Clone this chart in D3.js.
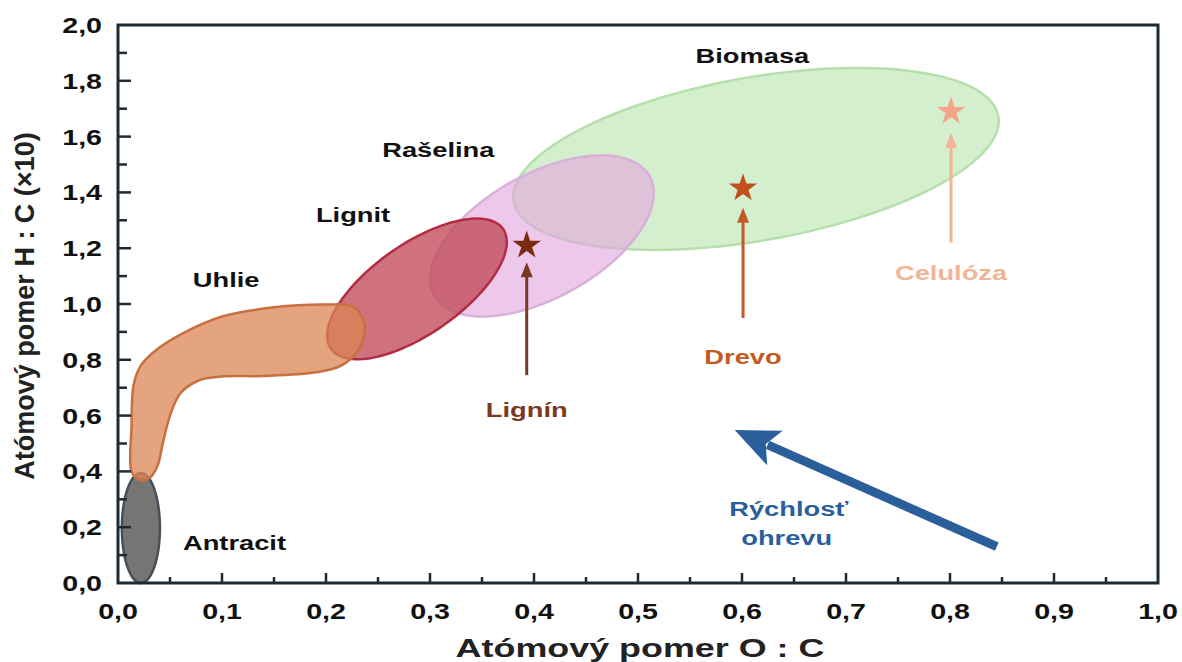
<!DOCTYPE html>
<html>
<head>
<meta charset="utf-8">
<script src="https://cdn.jsdelivr.net/npm/d3@7"></script>
<style>
  html, body { margin: 0; padding: 0; background: #ffffff; }
  svg { display: block; }
</style>
</head>
<body>
<div id="container"></div>
<script>
const pageWidth = 1182;
const pageHeight = 662;

// Axis setup
const xTicks = [0, 0.1, 0.2, 0.3, 0.4, 0.5, 0.6, 0.7, 0.8, 0.9, 1.0];
const xTickLabels = ["0,0", "0,1", "0,2", "0,3", "0,4", "0,5", "0,6", "0,7", "0,8", "0,9", "1,0"];
const yTicks = [0, 0.2, 0.4, 0.6, 0.8, 1.0, 1.2, 1.4, 1.6, 1.8, 2.0];
const yTickLabels = ["0,0", "0,2", "0,4", "0,6", "0,8", "1,0", "1,2", "1,4", "1,6", "1,8", "2,0"];
const xTitle = "Atómový pomer O : C";
const yTitle = "Atómový pomer H : C (×10)";

// Fuel regions drawn as ellipses: centre, half axis A, half axis B (data units)
const ellipseNames   = ["Biomasa", "Rašelina", "Lignit", "Antracit"];
const ellipseCenters = [[0.6135, 1.52], [0.4077, 1.244], [0.2875, 1.054], [0.022, 0.197]];
const ellipseAxisA   = [[0.233, 0.153], [0.1035, 0.2137], [0.0827, 0.215], [0.0, 0.197]];
const ellipseAxisB   = [[0.01365, -0.288], [0.0289, -0.1944], [0.0248, -0.132], [0.0183, 0.0]];

// Uhlie band outline (O:C, H:C)
const uhlieOutline = [
  [0.013, 0.40], [0.013, 0.56], [0.015, 0.71], [0.022, 0.78], [0.035, 0.83],
  [0.06, 0.89], [0.10, 0.955], [0.15, 0.988], [0.20, 0.998], [0.226, 0.99],
  [0.237, 0.93], [0.232, 0.84], [0.215, 0.78], [0.19, 0.755], [0.14, 0.742],
  [0.10, 0.74], [0.077, 0.725], [0.06, 0.68], [0.05, 0.60], [0.043, 0.50],
  [0.038, 0.42], [0.03, 0.375], [0.02, 0.37]
];

// Component stars with their arrows and labels
const starNames  = ["Lignín", "Drevo", "Celulóza"];
const starPoints = [[0.393, 1.21], [0.601, 1.415], [0.801, 1.69]];
const arrowFromY = [0.745, 0.95, 1.22];
const arrowToY   = [1.15, 1.345, 1.613];
const starLabelY = [0.595, 0.785, 1.085];

// Region labels
const regionLabels = ["Biomasa", "Rašelina", "Lignit", "Uhlie", "Antracit"];
const regionLabelPos = [[0.61, 1.865], [0.308, 1.528], [0.226, 1.295], [0.104, 1.06], [0.112, 0.118]];

// Heating rate arrow
const rateArrowFrom = [0.845, 0.13];
const rateArrowTo = [0.593, 0.548];
const rateLabel = ["Rýchlosť", "ohrevu"];
const rateLabelPos = [[0.645, 0.24], [0.643, 0.137]];

const margin = { top: 25, right: 24, bottom: 79, left: 118 };
const width = pageWidth - margin.left - margin.right;
const height = pageHeight - margin.top - margin.bottom;

const svg = d3.select("#container")
  .append("svg")
  .attr("width", pageWidth)
  .attr("height", pageHeight);

const g = svg.append("g")
  .attr("transform", "translate(" + margin.left + "," + margin.top + ")");

const x = d3.scaleLinear().domain([0, 1]).range([0, width]);
const y = d3.scaleLinear().domain([0, 2]).range([height, 0]);

const FONT = "'Liberation Sans', Arial, sans-serif";
const STRETCH = 1.3;

// stretched bold text, like the source picture
function addText(parent, px, py, txt, size, color, anchor, stretch)
{
  return parent.append("text")
    .attr("transform", "translate(" + px + "," + py + ") scale(" + (stretch || STRETCH) + ",1)")
    .attr("text-anchor", anchor || "middle")
    .style("font-family", FONT)
    .style("font-weight", "bold")
    .style("font-size", size + "px")
    .style("fill", color || "#111")
    .text(txt);
}

function ellipsePath(i)
{
  const c = ellipseCenters[i], a = ellipseAxisA[i], b = ellipseAxisB[i];
  const pts = d3.range(0, 2 * Math.PI, Math.PI / 60).map(t => [
    c[0] + a[0] * Math.cos(t) + b[0] * Math.sin(t),
    c[1] + a[1] * Math.cos(t) + b[1] * Math.sin(t)
  ]);
  return d3.line().x(d => x(d[0])).y(d => y(d[1])).curve(d3.curveLinearClosed)(pts);
}

// Regions
const regionStyle = {
  "Biomasa":  { fill: "#c8ebc0", opacity: 0.78, stroke: "#b5e0ac" },
  "Rašelina": { fill: "#e2a6df", opacity: 0.62, stroke: "#d9b0d9" },
  "Lignit":   { fill: "#c24a5a", opacity: 0.78, stroke: "#b22c42" },
  "Antracit": { fill: "#626262", opacity: 0.88, stroke: "#45505a" }
};

["Biomasa", "Rašelina", "Lignit", "Antracit"].forEach(name => {
  const i = ellipseNames.indexOf(name);
  const s = regionStyle[name];
  g.append("path")
    .attr("d", ellipsePath(i))
    .attr("fill", s.fill)
    .attr("fill-opacity", s.opacity)
    .attr("stroke", s.stroke)
    .attr("stroke-width", 2.5);
});

g.append("path")
  .datum(uhlieOutline)
  .attr("d", d3.line().x(d => x(d[0])).y(d => y(d[1])).curve(d3.curveCatmullRomClosed.alpha(0.5)))
  .attr("fill", "#da8654")
  .attr("fill-opacity", 0.75)
  .attr("stroke", "#c8703f")
  .attr("stroke-width", 2.5);

// Frame and ticks
const axisColor = "#1c2a35";

g.append("rect")
  .attr("x", 0).attr("y", 0)
  .attr("width", width).attr("height", height)
  .attr("fill", "none")
  .attr("stroke", axisColor)
  .attr("stroke-width", 3);

const xMinor = d3.range(0.05, 1.0, 0.1);
const yMinor = d3.range(0.1, 2.0, 0.2);

g.selectAll(".xmaj").data(xTicks.slice(1, -1)).enter().append("line")
  .attr("x1", d => x(d)).attr("x2", d => x(d))
  .attr("y1", height).attr("y2", height - 10)
  .attr("stroke", axisColor).attr("stroke-width", 2.5);
g.selectAll(".xmin").data(xMinor).enter().append("line")
  .attr("x1", d => x(d)).attr("x2", d => x(d))
  .attr("y1", height).attr("y2", height - 6)
  .attr("stroke", axisColor).attr("stroke-width", 2.5);
g.selectAll(".ymaj").data(yTicks.slice(1, -1)).enter().append("line")
  .attr("x1", 0).attr("x2", 13)
  .attr("y1", d => y(d)).attr("y2", d => y(d))
  .attr("stroke", axisColor).attr("stroke-width", 2.5);
g.selectAll(".ymin").data(yMinor).enter().append("line")
  .attr("x1", 0).attr("x2", 9)
  .attr("y1", d => y(d)).attr("y2", d => y(d))
  .attr("stroke", axisColor).attr("stroke-width", 2.5);

xTicks.forEach((v, i) => addText(g, x(v), height + 36, xTickLabels[i], 22, "#111"));
yTicks.forEach((v, i) => addText(g, -16, y(v) + 8, yTickLabels[i], 22, "#111", "end"));

// Axis titles
addText(g, width / 2 + 2, height + 74, xTitle, 26, "#222", "middle", 1.38);
g.append("text")
  .attr("transform", "translate(" + (-84) + "," + (height / 2 + 2) + ") rotate(-90)")
  .attr("text-anchor", "middle")
  .style("font-family", FONT)
  .style("font-weight", "bold")
  .style("font-size", "27px")
  .style("fill", "#222")
  .text(yTitle);

// Stars with arrows
const starColors = ["#7a2a10", "#c2501c", "#f2a587"];
const arrowColors = ["#7a3a22", "#c25a22", "#f0b596"];
const labelColors = ["#7a3a22", "#c25a22", "#f0b596"];

starPoints.forEach((p, i) => {
  const tipX = x(p[0]), tipY = y(arrowToY[i]);
  g.append("line")
    .attr("x1", tipX).attr("x2", tipX)
    .attr("y1", y(arrowFromY[i])).attr("y2", tipY + 12)
    .attr("stroke", arrowColors[i])
    .attr("stroke-width", 3);
  g.append("path")
    .attr("d", "M" + (tipX - 6) + "," + (tipY + 15) + " L" + tipX + "," + tipY + " L" + (tipX + 6) + "," + (tipY + 15) + " Z")
    .attr("fill", arrowColors[i]);

  g.append("path")
    .attr("transform", "translate(" + x(p[0]) + "," + y(p[1]) + ")")
    .attr("d", d3.symbol().type(d3.symbolStar).size(250)())
    .attr("fill", starColors[i]);

  addText(g, x(p[0]), y(starLabelY[i]), starNames[i], 21, labelColors[i]);
});

// Region labels
regionLabels.forEach((name, i) => {
  addText(g, x(regionLabelPos[i][0]), y(regionLabelPos[i][1]), name, 21, "#111");
});

// Heating rate arrow
{
  const x1 = x(rateArrowFrom[0]), y1 = y(rateArrowFrom[1]);
  const x2 = x(rateArrowTo[0]), y2 = y(rateArrowTo[1]);
  const ang = Math.atan2(y2 - y1, x2 - x1);
  const headLen = 44, headHalf = 19;
  const bx = x2 - headLen * Math.cos(ang), by = y2 - headLen * Math.sin(ang);
  const nx = -Math.sin(ang), ny = Math.cos(ang);
  const blue = "#2a5f9b";

  g.append("line")
    .attr("x1", x1).attr("y1", y1)
    .attr("x2", bx + 8 * Math.cos(ang)).attr("y2", by + 8 * Math.sin(ang))
    .attr("stroke", blue)
    .attr("stroke-width", 9);

  g.append("path")
    .attr("d", "M" + x2 + "," + y2 +
               " L" + (bx + headHalf * nx) + "," + (by + headHalf * ny) +
               " L" + (bx + 10 * Math.cos(ang)) + "," + (by + 10 * Math.sin(ang)) +
               " L" + (bx - headHalf * nx) + "," + (by - headHalf * ny) + " Z")
    .attr("fill", blue);

  rateLabel.forEach((t, i) => {
    addText(g, x(rateLabelPos[i][0]), y(rateLabelPos[i][1]), t, 21, blue);
  });
}
</script>
</body>
</html>
